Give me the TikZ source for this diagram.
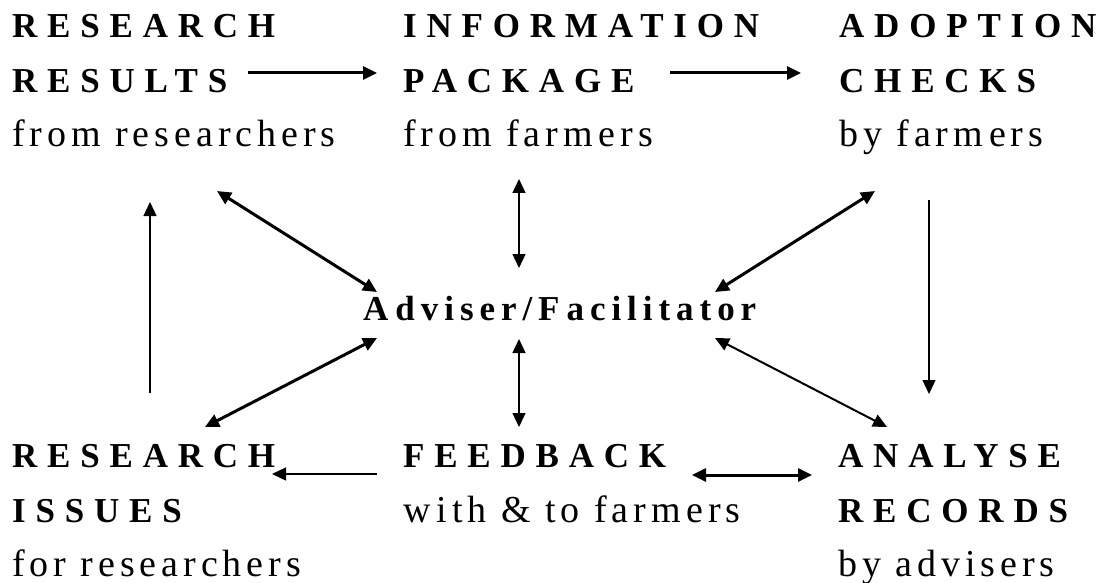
\documentclass[tikz,border=0pt]{standalone}
\usepackage{fontspec}
\setmainfont{Liberation Serif}
\newfontfamily\headfont[LetterSpace=28]{Liberation Serif}
\newfontfamily\subfont[LetterSpace=13]{Liberation Serif}
\newfontfamily\hubfont[LetterSpace=17]{Liberation Serif}
\usepackage{tikz}
\usetikzlibrary{arrows.meta}

\tikzset{
  head/.style = {anchor = base west, inner sep = 0, font = \headfont\bfseries\fontsize{35}{40}\selectfont},
  sub/.style = {anchor = base west, inner sep = 0, font = \subfont\fontsize{38}{40}\selectfont},
  hub/.style = {anchor = base west, inner sep = 0, font = \hubfont\bfseries\fontsize{35}{40}\selectfont},
  >/.tip = {Triangle[length = 14pt, width = 13pt]},
  thickline/.style = {line width = 3pt},
  midline/.style = {line width = 2pt},
  thinline/.style = {line width = 1.3pt}
}

\begin{document}
\begin{tikzpicture}[x = 1pt, y = -1pt]
  \useasboundingbox (0, 0) rectangle (1101, 583);
  % top row
  \node [head] (res1) at (12, 38) {RESEARCH};
  \node [head] (res2) at (12, 93) {RESULTS};
  \node [sub] (res3) at (12, 147) {from researchers};
  \node [head] (inf1) at (403, 38) {INFORMATION};
  \node [head] (inf2) at (403, 93) {PACKAGE};
  \node [sub] (inf3) at (403, 147) {from farm\kern6pt ers};
  \node [head] (ado1) at (839, 38) {ADOPTION};
  \node [head] (ado2) at (839, 93) {CHECKS};
  \node [sub] (ado3) at (839, 147) {by farm\kern6pt ers};
  % centre
  \node [hub] (hub) at (363, 320) {A\kern7pt dviser/F\kern7pt acilitator};
  % bottom row
  \node [head] (iss1) at (12, 467) {RESEARCH};
  \node [head] (iss2) at (12, 522) {ISSUES};
  \node [sub] (iss3) at (12, 576) {for researchers};
  \node [head] (fb1) at (403, 467) {FEEDBACK};
  \node [sub] (fb2) at (403, 522) {w\kern6pt ith \& to farm\kern6pt ers};
  \node [head] (ana1) at (838, 467) {ANALYSE};
  \node [head] (ana2) at (838, 522) {RECORDS};
  \node [sub] (ana3) at (838, 576) {by advisers};
  % arrow ends
  \coordinate (res-out) at (248, 73);
  \coordinate (inf-in) at (377, 73);
  \coordinate (inf-out) at (670, 73);
  \coordinate (ado-in) at (801, 73);
  \coordinate (inf-s) at (519, 179);
  \coordinate (hub-n) at (519, 268);
  \coordinate (res-se) at (217, 191);
  \coordinate (hub-nw) at (377, 292);
  \coordinate (ado-sw) at (875, 191);
  \coordinate (hub-ne) at (715, 292);
  \coordinate (iss-n) at (150, 393);
  \coordinate (res-s) at (150, 202);
  \coordinate (ado-s) at (929, 200);
  \coordinate (ana-n) at (929, 394);
  \coordinate (hub-sw) at (377, 338);
  \coordinate (iss-ne) at (205, 427);
  \coordinate (hub-s) at (519, 339);
  \coordinate (fb-n) at (519, 427);
  \coordinate (hub-se) at (715, 338);
  \coordinate (ana-nw) at (887, 427);
  \coordinate (fb-w) at (377, 474);
  \coordinate (iss-e) at (272, 474);
  \coordinate (fb-e) at (692, 475);
  \coordinate (ana-w) at (812, 475);
  % connectors
  \draw [thickline, ->] (res-out) -- (inf-in);
  \draw [thickline, ->] (inf-out) -- (ado-in);
  \draw [thinline, <->] (inf-s) -- (hub-n);
  \draw [thickline, <->] (res-se) -- (hub-nw);
  \draw [thickline, <->] (ado-sw) -- (hub-ne);
  \draw [thinline, ->] (iss-n) -- (res-s);
  \draw [thinline, ->] (ado-s) -- (ana-n);
  \draw [thickline, <->] (hub-sw) -- (iss-ne);
  \draw [thinline, <->] (hub-s) -- (fb-n);
  \draw [midline, <->] (hub-se) -- (ana-nw);
  \draw [thinline, ->] (fb-w) -- (iss-e);
  \draw [thickline, <->] (fb-e) -- (ana-w);
\end{tikzpicture}
\end{document}
